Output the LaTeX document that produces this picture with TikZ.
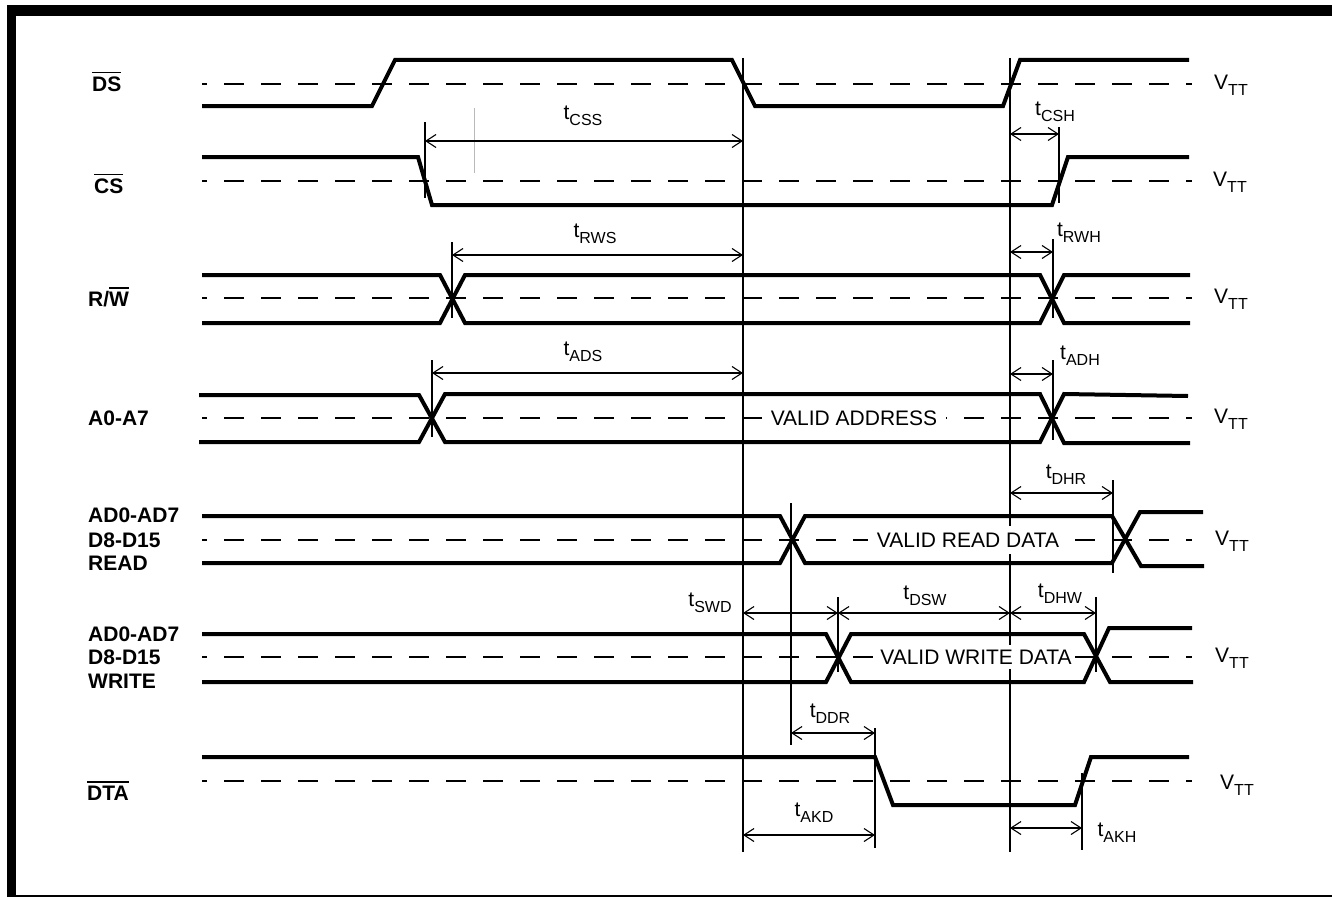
\documentclass[tikz,border=0pt]{standalone}
\usepackage{fontspec}
\setmainfont{Liberation Sans}
\usetikzlibrary{arrows.meta}
\newcommand{\tl}[1]{t\raisebox{-0.3em}{\fontsize{16}{16}\selectfont #1}}
\newcommand{\vttl}{V\raisebox{-0.3em}{\fontsize{16}{16}\selectfont TT}}
\newcommand{\ovl}[1]{\leavevmode\vbox{\hrule height 1.6pt\kern 3pt\hbox{#1}}}
\begin{document}
\begin{tikzpicture}[x=1pt,y=-1pt,
  sig/.style={line width=4pt, line join=miter},
  vtt/.style={line width=1.3pt, dash pattern=on 20pt off 17pt, dash phase=15pt},
  vline/.style={line width=1.1pt},
  dim/.style={line width=1.1pt, arrows={Straight Barb[length=10pt,width=13pt]-Straight Barb[length=10pt,width=13pt]}},
  tlab/.style={font=\fontsize{21}{24}\selectfont, inner sep=0pt},
  slab/.style={font=\fontsize{21}{24}\selectfont\bfseries, anchor=base west, inner sep=0pt},
  vlab/.style={font=\fontsize{21}{24}\selectfont, anchor=base west, inner sep=0pt},
  valid/.style={font=\fontsize{21}{24}\selectfont, fill=white, inner xsep=9pt, inner ysep=7pt}
]
\useasboundingbox (0,0) rectangle (1332,899);
% frame
\fill (7,5) rectangle (1332,16);
\fill (7,5) rectangle (16,897);
\draw[line width=2pt] (7,896) -- (1332,896);

% reference (VTT) lines
\foreach \y in {84,181,298,418,540,657,781}
  \draw[vtt] (202,\y) -- (1192,\y);

% long vertical reference lines
\coordinate (A1) at (743,58);  \coordinate (A2) at (743,852);
\coordinate (B1) at (1010,58); \coordinate (B2) at (1010,852);
\draw[vline] (A1) -- (A2);
\draw[vline] (B1) -- (B2);
\draw[vline] (791,503) -- (791,745);
% short ticks
\draw[vline] (425,122) -- (425,198);
\draw[gray!55, line width=1pt] (474,108) -- (474,173);
\draw[vline] (1059,127) -- (1059,203);
\draw[vline] (452,242) -- (452,318);
\draw[vline] (1053,239) -- (1053,318);
\draw[vline] (432,360) -- (432,437);
\draw[vline] (1053,360) -- (1053,440);
\draw[vline] (1113,480) -- (1113,573);
\draw[vline] (838,597) -- (838,672);
\draw[vline] (1096,597) -- (1096,672);
\draw[vline] (875,728) -- (875,848);
\draw[vline] (1082,773) -- (1082,850);

% text inside buses
\node[valid] (va) at (854,418) {VALID ADDRESS};
\node[valid] (vr) at (968,540) {VALID READ DATA};
\node[valid, inner xsep=2pt, inner ysep=5pt] (vw) at (976,657) {VALID WRITE DATA};

% signals
\draw[sig] (202,106) -- (372,106) -- (395,60) -- (732,60) -- (755,106) -- (1003,106) -- (1020,60) -- (1189,60);
\draw[sig] (202,157) -- (418,157) -- (432,205) -- (1052,205) -- (1068,157) -- (1189,157);
\draw[sig] (202,275) -- (440,275) -- (465,323) -- (1040,323) -- (1064,275) -- (1190,275);
\draw[sig] (202,323) -- (440,323) -- (465,275) -- (1040,275) -- (1064,323) -- (1190,323);
\draw[sig] (199,395) -- (419,395) -- (445,442) -- (1040,442) -- (1064,394) -- (1188,396);
\draw[sig] (199,442) -- (419,442) -- (445,394) -- (1040,394) -- (1064,443) -- (1190,443);
\draw[sig] (202,516) -- (780,516) -- (805,563) -- (1112,563) -- (1140,512) -- (1203,512);
\draw[sig] (202,563) -- (780,563) -- (805,516) -- (1112,516) -- (1141,566) -- (1204,566);
\draw[sig] (202,634) -- (826,634) -- (851,682) -- (1084,682) -- (1109,628) -- (1192,628);
\draw[sig] (202,682) -- (826,682) -- (851,634) -- (1084,634) -- (1110,682) -- (1193,682);
\draw[sig] (202,757) -- (875,757) -- (893,805) -- (1075,805) -- (1091,757) -- (1189,757);

% dimension arrows
\draw[dim] (425,141) -- (743,141);
\draw[dim] (1010,134) -- (1059,134);
\draw[dim] (452,255) -- (743,255);
\draw[dim] (1010,252) -- (1053,252);
\draw[dim] (432,373) -- (743,373);
\draw[dim] (1010,374) -- (1053,374);
\draw[dim] (1010,493) -- (1113,493);
\draw[dim] (743,613) -- (838,613);
\draw[dim] (838,613) -- (1010,613);
\draw[dim] (1010,613) -- (1096,613);
\draw[dim] (791,733) -- (875,733);
\draw[dim] (743,835) -- (875,835);
\draw[dim] (1010,828) -- (1082,828);

% timing labels
\node[tlab] (lcss) at (583,116) {\tl{CSS}};
\node[tlab] (lcsh) at (1055,112) {\tl{CSH}};
\node[tlab] (lrws) at (595,234) {\tl{RWS}};
\node[tlab] (lrwh) at (1079,233) {\tl{RWH}};
\node[tlab] (lads) at (583,352) {\tl{ADS}};
\node[tlab] (ladh) at (1080,356) {\tl{ADH}};
\node[tlab] (ldhr) at (1066,475) {\tl{DHR}};
\node[tlab] (lswd) at (710,603) {\tl{SWD}};
\node[tlab] (ldsw) at (925,596) {\tl{DSW}};
\node[tlab] (ldhw) at (1060,594) {\tl{DHW}};
\node[tlab] (lddr) at (830,714) {\tl{DDR}};
\node[tlab] (lakd) at (814,813) {\tl{AKD}};
\node[tlab] (lakh) at (1117,833) {\tl{AKH}};

% signal names
\node[slab] (nds) at (92,91) {\ovl{DS}};
\node[slab] (ncs) at (94,193) {\ovl{CS}};
\node[slab] (nrw) at (88,306) {R/\ovl{W}};
\node[slab] (na) at (88,425.5) {A0-A7};
\node[slab] (nr1) at (88,522.5) {AD0-AD7};
\node[slab] (nr2) at (88,547.5) {D8-D15};
\node[slab] (nr3) at (88,570.5) {READ};
\node[slab] (nw1) at (88,641.5) {AD0-AD7};
\node[slab] (nw2) at (88,664.5) {D8-D15};
\node[slab] (nw3) at (88,688.5) {WRITE};
\node[slab] (ndta) at (87,800) {\ovl{DTA}};

% VTT labels
\node[vlab] (v1) at (1214,89) {\vttl};
\node[vlab] (v2) at (1213,186) {\vttl};
\node[vlab] (v3) at (1214,303) {\vttl};
\node[vlab] (v4) at (1214,423) {\vttl};
\node[vlab] (v5) at (1215,545) {\vttl};
\node[vlab] (v6) at (1215,662) {\vttl};
\node[vlab] (v7) at (1220,789) {\vttl};
\end{tikzpicture}
\end{document}
